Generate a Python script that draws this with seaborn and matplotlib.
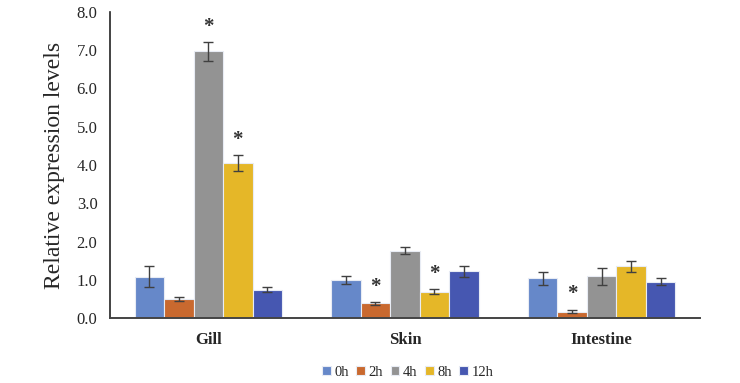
import numpy as np
import pandas as pd
import seaborn as sns
import matplotlib.pyplot as plt

# datos
tissues = ["Gill", "Skin", "Intestine"]
times = ["0h", "2h", "4h", "8h", "12h"]
gill = [1.08, 0.50, 6.97, 4.05, 0.74]
skin = [0.99, 0.38, 1.76, 0.69, 1.22]
intestine = [1.04, 0.17, 1.09, 1.35, 0.95]
gill_err = [0.28, 0.06, 0.24, 0.20, 0.07]
skin_err = [0.10, 0.03, 0.09, 0.06, 0.15]
intestine_err = [0.17, 0.04, 0.23, 0.15, 0.10]
signif = {("Gill", "4h"), ("Gill", "8h"), ("Skin", "2h"), ("Skin", "8h"), ("Intestine", "2h")}

colors = ["#6688C9", "#C9692F", "#939393", "#E5B728", "#4657B1"]

values = {"Gill": gill, "Skin": skin, "Intestine": intestine}
errors = {"Gill": gill_err, "Skin": skin_err, "Intestine": intestine_err}
rows = []
for t in tissues:
    for i, h in enumerate(times):
        rows.append({"Tissue": t, "Time": h, "Value": values[t][i], "Err": errors[t][i]})
df = pd.DataFrame(rows)

sns.set_style("white")
plt.rcParams["font.family"] = ["Liberation Serif", "DejaVu Serif"]

fig = plt.figure(figsize=(7.4, 3.83), dpi=100)
ax = fig.add_axes([0.1486, 0.1697, 0.7973, 0.799])

sns.barplot(data=df, x="Tissue", y="Value", hue="Time", order=tissues, hue_order=times,
            palette=colors, saturation=1, width=0.75, errorbar=None,
            edgecolor="#E8ECF4", linewidth=0.8, ax=ax)

# barras de error y asteriscos
for h, cont in zip(times, ax.containers):
    for t, bar in zip(tissues, cont):
        sub = df[(df.Tissue == t) & (df.Time == h)].iloc[0]
        xc = bar.get_x() + bar.get_width() / 2
        ax.errorbar(xc, sub.Value, yerr=sub.Err, fmt="none", ecolor="#404040",
                    elinewidth=1.0, capsize=3.5, capthick=1.0)
        if (t, h) in signif:
            ax.annotate("*", (xc, sub.Value + sub.Err), xytext=(0, 4), textcoords="offset points",
                        ha="center", va="bottom", fontsize=15, fontweight="bold", color="#333333")

ax.set_ylim(0, 8)
ax.set_xlim(-0.5, 2.5)
ax.set_yticks(np.arange(0, 8.1, 1.0))
ax.set_yticklabels([f"{v:.1f}" for v in np.arange(0, 8.1, 1.0)], fontsize=12)
ax.set_xticks([0, 1, 2])
ax.set_xticklabels(tissues, fontsize=12, fontweight="bold")
ax.tick_params(axis="x", length=0, pad=10)
ax.tick_params(axis="y", direction="in", length=4, width=1, color="#222222", pad=9)
ax.set_xticks([0.5, 1.5, 2.5], minor=True)
ax.tick_params(axis="x", which="minor", direction="in", length=5, width=1.2, color="#444444")

ax.set_xlabel("")
ax.set_ylabel("Relative expression levels", fontsize=17, labelpad=8)

for s in ["top", "right"]:
    ax.spines[s].set_visible(False)
ax.spines["left"].set_color("#222222")
ax.spines["left"].set_linewidth(1.2)
ax.spines["bottom"].set_color("#444444")
ax.spines["bottom"].set_linewidth(1.4)

handles, labels = ax.get_legend_handles_labels()
ax.legend_.remove()
fig.legend(handles, labels, loc="center", bbox_to_anchor=(0.551, 0.028), ncol=5, frameon=False,
           fontsize=10.5, handlelength=0.6, handleheight=0.6, handletextpad=0.25, columnspacing=0.5)

fig.savefig("out.png", dpi=100)
